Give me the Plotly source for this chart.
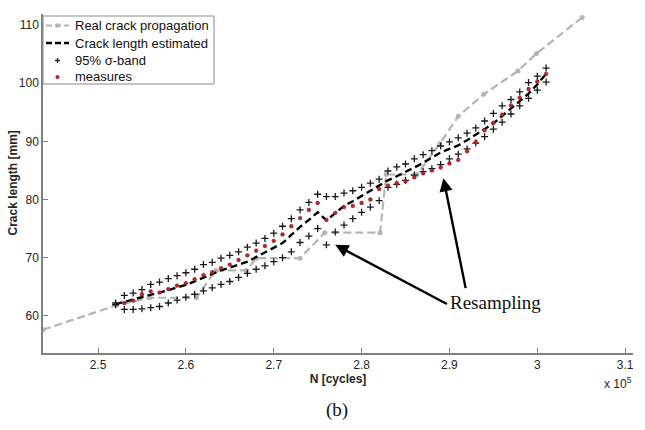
import plotly.graph_objects as go

# ---------------- data ----------------
# Real crack propagation (grey dashed)
real_N = [2.4374, 2.521, 2.559, 2.612, 2.634, 2.669, 2.680, 2.730, 2.758, 2.821,
          2.828, 2.863, 2.889, 2.910, 2.939, 2.978, 2.999, 3.051]
real_a = [57.6, 61.8, 63.1, 63.1, 67.8, 67.8, 69.9, 69.9, 74.3, 74.3,
          84.3, 84.3, 89.6, 94.3, 98.1, 102.1, 105.1, 111.3]

# sampling instants (x 1e5 cycles)
samp_N = [2.52, 2.53, 2.54, 2.55, 2.56, 2.57, 2.58, 2.59, 2.60, 2.61,
          2.62, 2.63, 2.64, 2.65, 2.66, 2.67, 2.68, 2.69, 2.70, 2.71,
          2.72, 2.73, 2.74, 2.75, 2.76, 2.77, 2.78, 2.79, 2.80, 2.81,
          2.82, 2.83, 2.84, 2.85, 2.86, 2.87, 2.88, 2.89, 2.90, 2.91,
          2.92, 2.93, 2.94, 2.95, 2.96, 2.97, 2.98, 2.99, 3.00, 3.01]

est_a = [62.0, 62.4, 62.8, 63.2, 63.5, 64.0, 64.4, 64.9, 65.3, 65.9,
         66.6, 67.2, 67.8, 68.3, 68.8, 69.3, 70.1, 70.9, 71.6, 72.5,
         73.9, 75.3, 76.5, 77.8, 76.4, 77.6, 78.9, 79.7, 80.6, 81.5,
         82.4, 83.3, 84.0, 84.7, 85.5, 86.3, 87.2, 88.1, 88.7, 89.3,
         90.2, 91.1, 92.1, 93.1, 94.4, 95.7, 96.9, 98.2, 99.8, 101.6]

upper_a = [62.2, 63.5, 63.9, 64.5, 65.4, 65.8, 66.4, 66.9, 67.4, 68.0,
           68.8, 69.2, 69.9, 70.4, 71.0, 71.8, 72.5, 73.3, 74.2, 75.4,
           76.7, 78.2, 79.5, 80.9, 80.5, 80.5, 81.1, 81.5, 82.1, 82.8,
           83.5, 84.9, 85.6, 86.1, 87.0, 87.7, 88.4, 89.2, 89.9, 90.6,
           91.4, 92.3, 93.5, 94.8, 96.1, 97.2, 98.5, 100.1, 101.2, 102.6]

lower_a = [61.9, 61.1, 61.1, 61.2, 61.4, 61.6, 62.2, 62.7, 63.2, 63.7,
           64.3, 64.8, 65.4, 65.9, 66.6, 67.3, 68.0, 68.6, 69.3, 70.0,
           71.0, 72.6, 73.7, 75.0, 72.2, 74.4, 75.6, 76.7, 77.8, 78.7,
           79.8, 82.1, 82.6, 83.3, 84.2, 84.8, 85.3, 86.0, 87.0, 87.8,
           88.7, 89.7, 90.8, 92.1, 93.3, 94.7, 96.1, 97.4, 98.8, 100.2]

meas_N = samp_N[1:]
meas_a = [62.2, 62.6, 63.7, 64.2, 64.0, 64.6, 65.2, 65.6, 66.3,
          67.0, 67.5, 68.2, 68.8, 69.6, 70.4, 71.2, 72.0, 72.9, 74.0,
          75.4, 76.8, 78.2, 79.4, 76.5, 77.7, 78.7, 78.9, 79.4, 80.0,
          81.8, 82.4, 82.8, 83.1, 83.8, 84.5, 85.0, 85.5, 86.2, 86.8,
          88.3, 89.9, 91.9, 93.2, 94.6, 96.2, 97.5, 99.0, 100.3, 101.6]

x_ticks = [2.5, 2.6, 2.7, 2.8, 2.9, 3.0, 3.1]
x_tick_labels = ["2.5", "2.6", "2.7", "2.8", "2.9", "3", "3.1"]
y_ticks = [60, 70, 80, 90, 100, 110]

legend_labels = ["Real crack propagation", "Crack length estimated", "95% σ-band", "measures"]

# ---------------- layout geometry (pixels) ----------------
W, H = 645, 430
L, R, T, B = 43, 12, 14, 77
PW, PH = W - L - R, H - T - B


def px(xp):
    return (xp - L) / PW


def py(yp):
    return (H - B - yp) / PH


GREY = "#b4b4b4"
RED = "#c0262c"
SANS = "Liberation Sans, Arial, sans-serif"
SERIF = "Liberation Serif, Times New Roman, serif"

# ---------------- figure ----------------
fig = go.Figure()

fig.add_trace(go.Scatter(
    x=real_N, y=real_a, mode="lines+markers", name=legend_labels[0],
    line=dict(color=GREY, width=2.2, dash="8px,4px"),
    marker=dict(color=GREY, size=5, symbol="circle")))

fig.add_trace(go.Scatter(
    x=samp_N, y=est_a, mode="lines", name=legend_labels[1],
    line=dict(color="#000000", width=2.4, dash="7px,4px")))

fig.add_trace(go.Scatter(
    x=samp_N + samp_N, y=upper_a + lower_a, mode="markers", name=legend_labels[2],
    marker=dict(symbol="cross-thin", size=5, color="#1a1a1a",
                line=dict(color="#1a1a1a", width=1.3))))

fig.add_trace(go.Scatter(
    x=meas_N, y=meas_a, mode="markers", name=legend_labels[3],
    marker=dict(symbol="circle", size=3.8, color=RED,
                line=dict(color="#5a1010", width=0.4))))

axis_font = dict(family=SANS, size=12, color="#262626")

fig.update_xaxes(
    range=[2.4374, 3.1089], tickvals=x_ticks, ticktext=x_tick_labels,
    ticks="inside", ticklen=5, tickcolor="#808080", tickwidth=1,
    showline=True, linecolor="#808080", linewidth=1.5, showgrid=False,
    zeroline=False, tickfont=axis_font,
    title=dict(text="<b>N [cycles]</b>", font=axis_font, standoff=2))

fig.update_yaxes(
    range=[53.6, 111.9], tickvals=y_ticks,
    ticks="inside", ticklen=5, tickcolor="#808080", tickwidth=1,
    showline=True, linecolor="#808080", linewidth=1.5, showgrid=False,
    zeroline=False, tickfont=axis_font)

# ---------------- custom legend (box, samples, labels) ----------------
shapes = []
annotations = []
lx0, lx1, ly0, ly1 = 43, 214, 16, 84
shapes.append(dict(type="rect", xref="paper", yref="paper",
                   x0=px(lx0), x1=px(lx1), y0=py(ly1), y1=py(ly0),
                   line=dict(color="#8a8a8a", width=1), fillcolor="white", layer="above"))
rows = [25.5, 43, 60.5, 77]
sx0, sx1, sxm = 46, 69, 57.5
# row 1: grey dashed line with dot
shapes.append(dict(type="line", xref="paper", yref="paper", x0=px(sx0), x1=px(sx1),
                   y0=py(rows[0]), y1=py(rows[0]), layer="above",
                   line=dict(color=GREY, width=2.2, dash="6px,3px")))
shapes.append(dict(type="circle", xref="paper", yref="paper", layer="above",
                   x0=px(sxm - 2.3), x1=px(sxm + 2.3), y0=py(rows[0] + 2.3), y1=py(rows[0] - 2.3),
                   fillcolor=GREY, line=dict(color=GREY, width=0)))
# row 2: black dashed line
shapes.append(dict(type="line", xref="paper", yref="paper", x0=px(sx0), x1=px(sx1),
                   y0=py(rows[1]), y1=py(rows[1]), layer="above",
                   line=dict(color="#000", width=2.4, dash="6px,3px")))
# row 3: plus sign
shapes.append(dict(type="line", xref="paper", yref="paper", x0=px(sxm - 2.5), x1=px(sxm + 2.5),
                   y0=py(rows[2]), y1=py(rows[2]), layer="above", line=dict(color="#1a1a1a", width=1.3)))
shapes.append(dict(type="line", xref="paper", yref="paper", x0=px(sxm), x1=px(sxm),
                   y0=py(rows[2] - 2.5), y1=py(rows[2] + 2.5), layer="above", line=dict(color="#1a1a1a", width=1.3)))
# row 4: red dot
shapes.append(dict(type="circle", xref="paper", yref="paper", layer="above",
                   x0=px(sxm - 1.8), x1=px(sxm + 1.8), y0=py(rows[3] + 1.8), y1=py(rows[3] - 1.8),
                   fillcolor=RED, line=dict(color="#5a1010", width=0.4)))
for lab, ry in zip(legend_labels, rows):
    annotations.append(dict(text=lab, xref="paper", yref="paper", x=px(73), y=py(ry),
                            xanchor="left", yanchor="middle", showarrow=False,
                            font=dict(family=SANS, size=13, color="#111")))

# ---------------- other texts and arrows ----------------
annotations += [
    dict(text="<b>Crack length [mm]</b>", xref="paper", yref="paper",
         x=px(12), y=0.5, textangle=-90, showarrow=False,
         font=axis_font, xanchor="center", yanchor="middle"),
    dict(text="x 10<sup>5</sup>", xref="paper", yref="paper",
         x=px(634), y=py(383), xanchor="right", yanchor="middle",
         showarrow=False, font=dict(family=SANS, size=12, color="#262626")),
    dict(text="(b)", xref="paper", yref="paper",
         x=px(337), y=py(410), xanchor="center", yanchor="middle",
         showarrow=False, font=dict(family=SERIF, size=19, color="#111")),
    dict(text="Resampling", x=2.9525, y=60 + (316 - 303) / 5.82, xref="x", yref="y",
         showarrow=False, xanchor="center", yanchor="middle",
         font=dict(family=SERIF, size=19, color="#111")),
    dict(x=2.770, y=72.2, ax=2.8988, ay=61.9, xref="x", yref="y", axref="x", ayref="y",
         text="", showarrow=True, arrowhead=2, arrowsize=1.1, arrowwidth=2.4, arrowcolor="#000"),
    dict(x=2.8931, y=83.66, ax=2.9188, ay=64.5, xref="x", yref="y", axref="x", ayref="y",
         text="", showarrow=True, arrowhead=2, arrowsize=1.1, arrowwidth=2.4, arrowcolor="#000"),
]

fig.update_layout(
    width=W, height=H,
    margin=dict(l=L, r=R, t=T, b=B),
    paper_bgcolor="white", plot_bgcolor="white",
    showlegend=False,
    shapes=shapes,
    annotations=annotations)

fig.write_html("out.html", config={"displayModeBar": False},
               post_script="document.body.style.margin='0';")
